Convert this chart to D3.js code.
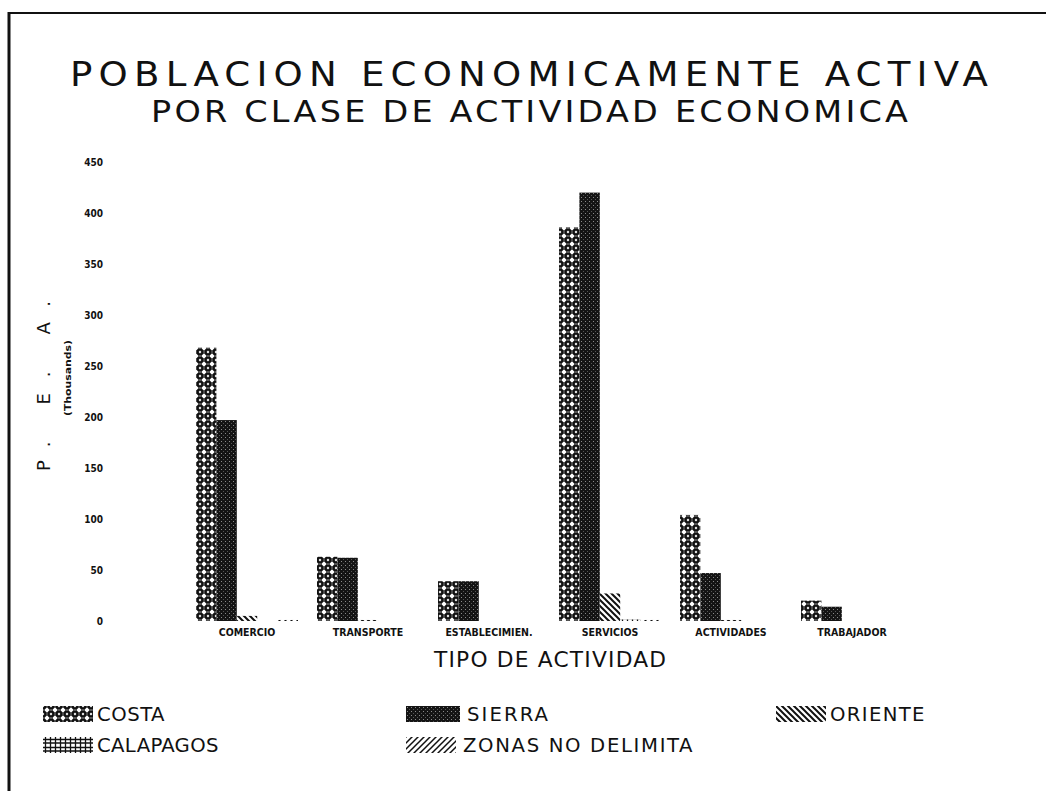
<!DOCTYPE html>
<html>
<head>
<meta charset="utf-8">
<script src="https://cdn.jsdelivr.net/npm/d3@7"></script>
<style>
  html, body { margin: 0; padding: 0; background: #fff; }
  svg { display: block; }
  .thin { font-family: "DejaVu Sans Condensed", "DejaVu Sans", sans-serif; font-weight: 200; fill: #111; }
  .mid { font-family: "DejaVu Sans", sans-serif; font-weight: normal; fill: #111; }
  .tick { font-family: "DejaVu Sans Condensed", "DejaVu Sans", sans-serif; font-weight: bold; fill: #111; }
</style>
</head>
<body>
<script>
// ---- Data ----
const categories = ["COMERCIO", "TRANSPORTE", "ESTABLECIMIEN.", "SERVICIOS", "ACTIVIDADES", "TRABAJADOR"];
const series = ["COSTA", "SIERRA", "ORIENTE", "CALAPAGOS", "ZONAS NO DELIMITA"];
const costa     = [268, 63, 39, 386, 104, 20];
const sierra    = [197, 62, 39, 420, 47, 14];
const oriente   = [5, 1, 0, 27, 1, 0];
const calapagos = [0, 0, 0, 1.5, 0, 0];
const zonas     = [1, 0, 0, 1, 0, 0];
const yTicks    = [0, 50, 100, 150, 200, 250, 300, 350, 400, 450];
const titleText = "POBLACION ECONOMICAMENTE ACTIVA";
const subtitleText = "POR CLASE DE ACTIVIDAD ECONOMICA";
const xTitleText = "TIPO DE ACTIVIDAD";
const yTitleText = "P.    E.    A.";
const yUnitText = "(Thousands)";

const seriesValues = [costa, sierra, oriente, calapagos, zonas];

const W = 1046, H = 791;
const svg = d3.select("body").append("svg").attr("width", W).attr("height", H);

// ---- Patterns ----
const defs = svg.append("defs");
const pCosta = defs.append("pattern").attr("id", "pCosta").attr("patternUnits", "userSpaceOnUse")
  .attr("width", 8).attr("height", 8);
pCosta.append("rect").attr("width", 8).attr("height", 8).attr("fill", "#111");
pCosta.append("path").attr("d", "M4,1.3 L6.7,4 L4,6.7 L1.3,4 Z").attr("fill", "#fff");
pCosta.append("path").attr("d", "M0,0 L1.4,0 L0,1.4 Z M8,0 L6.6,0 L8,1.4 Z M0,8 L0,6.6 L1.4,8 Z M8,8 L6.6,8 L8,6.6 Z").attr("fill", "#fff");
pCosta.append("path").attr("d", "M0,4 L1,4 M7,4 L8,4 M4,0 L4,0.8 M4,7.2 L4,8").attr("stroke", "#999").attr("stroke-width", 1);
const pSierra = defs.append("pattern").attr("id", "pSierra").attr("patternUnits", "userSpaceOnUse")
  .attr("width", 4).attr("height", 4);
pSierra.append("rect").attr("width", 4).attr("height", 4).attr("fill", "#141414");
pSierra.append("rect").attr("x", 1).attr("y", 1).attr("width", 1).attr("height", 1).attr("fill", "#8a8a8a");
pSierra.append("rect").attr("x", 3).attr("y", 3).attr("width", 1).attr("height", 1).attr("fill", "#555");
const pOriente = defs.append("pattern").attr("id", "pOriente").attr("patternUnits", "userSpaceOnUse")
  .attr("width", 6).attr("height", 6);
pOriente.append("rect").attr("width", 6).attr("height", 6).attr("fill", "#fff");
pOriente.append("path").attr("d", "M-1,-1 L7,7 M-1,5 L1,7 M5,-1 L7,1").attr("stroke", "#111").attr("stroke-width", 2);
const pCal = defs.append("pattern").attr("id", "pCal").attr("patternUnits", "userSpaceOnUse")
  .attr("width", 5).attr("height", 8);
pCal.append("rect").attr("width", 5).attr("height", 8).attr("fill", "#fff");
pCal.append("path").attr("d", "M2.5,0 L2.5,8 M0,2.5 L5,2.5 M0,6 L5,6").attr("stroke", "#111").attr("stroke-width", 1.3);
const pZon = defs.append("pattern").attr("id", "pZon").attr("patternUnits", "userSpaceOnUse")
  .attr("width", 6).attr("height", 6);
pZon.append("rect").attr("width", 6).attr("height", 6).attr("fill", "#fff");
pZon.append("path").attr("d", "M-1,7 L7,-1 M-1,1 L1,-1 M5,7 L7,5").attr("stroke", "#111").attr("stroke-width", 1.5);

const fills = ["url(#pCosta)", "url(#pSierra)", "url(#pOriente)", "url(#pCal)", "url(#pZon)"];

// ---- Frame ----
svg.append("line").attr("x1", 9).attr("x2", W).attr("y1", 13).attr("y2", 13).attr("stroke", "#111").attr("stroke-width", 2);
svg.append("line").attr("x1", 9).attr("x2", 9).attr("y1", 12).attr("y2", H).attr("stroke", "#111").attr("stroke-width", 3);

// helper: horizontally widened thin text, spread to a given length
function wideText(x, yPos, size, len, sx, str) {
  return svg.append("text").attr("class", "thin")
    .attr("transform", `translate(${x},${yPos}) scale(${sx},1)`)
    .attr("font-size", size).attr("textLength", len / sx).attr("lengthAdjust", "spacing").text(str);
}

// ---- Titles ----
wideText(70, 86, 33, 918, 1.25, titleText);
wideText(151, 122, 30.5, 757, 1.22, subtitleText);

// ---- Scales ----
const y = d3.scaleLinear().domain([0, 450]).range([621, 162]);
const x0 = d3.scaleBand().domain(categories).range([186.5, 912.5]).paddingInner(0).paddingOuter(0);
const x1 = d3.scaleBand().domain(series).range([9.5, x0.bandwidth() - 9.5]).padding(0);

// ---- Y axis labels ----
const yAxis = d3.axisLeft(y).tickValues(yTicks).tickSize(0).tickPadding(0);
const gy = svg.append("g").attr("transform", "translate(103,0)").call(yAxis);
gy.select(".domain").remove();
gy.selectAll("text").attr("class", "tick").attr("font-size", 10).attr("dy", "0.35em").attr("fill", "#111");

// ---- X axis labels ----
const xAxis = d3.axisBottom(x0).tickSize(0).tickPadding(0);
const gx = svg.append("g").attr("transform", "translate(0,629)").call(xAxis);
gx.select(".domain").remove();
gx.selectAll("text").attr("class", "tick").attr("font-size", 10.5).attr("dy", "0.71em").attr("fill", "#111");

// ---- Axis titles ----
wideText(434, 667, 21, 232, 1.15, xTitleText);
svg.append("text").attr("class", "mid").attr("transform", "translate(50,471) rotate(-90)")
  .attr("font-size", 18).attr("textLength", 170).attr("lengthAdjust", "spacing").text(yTitleText);
svg.append("text").attr("class", "tick").attr("transform", "translate(71,416) rotate(-90)")
  .attr("font-size", 9).attr("textLength", 76).attr("lengthAdjust", "spacingAndGlyphs").text(yUnitText);

// ---- Bars ----
const rows = [];
categories.forEach((c, ci) => {
  series.forEach((s, si) => rows.push({ cat: c, ser: s, si: si, v: seriesValues[si][ci] }));
});
svg.append("g").selectAll("rect").data(rows.filter(d => d.v > 0)).join("rect")
  .attr("x", d => x0(d.cat) + x1(d.ser))
  .attr("y", d => y(d.v))
  .attr("width", x1.bandwidth())
  .attr("height", d => y(0) - y(d.v))
  .attr("fill", d => fills[d.si]);

// ---- Legend ----
const legPos = [[43, 706], [406, 706], [776, 706], [43, 737], [406, 737]];
const leg = svg.append("g").selectAll("g").data(series).join("g")
  .attr("transform", (d, i) => `translate(${legPos[i][0]},${legPos[i][1]})`);
leg.append("rect").attr("width", (d, i) => i === 1 ? 54 : 50).attr("height", 16)
  .attr("fill", (d, i) => fills[i]);
leg.append("text").attr("class", "thin")
  .attr("transform", (d, i) => `translate(${i === 1 ? 61 : (i === 4 ? 57 : 54)},15) scale(1.15,1)`)
  .attr("font-size", 19).attr("textLength", d => d.length * 13.5 / 1.15)
  .attr("lengthAdjust", "spacing").text(d => d);
</script>
</body>
</html>
